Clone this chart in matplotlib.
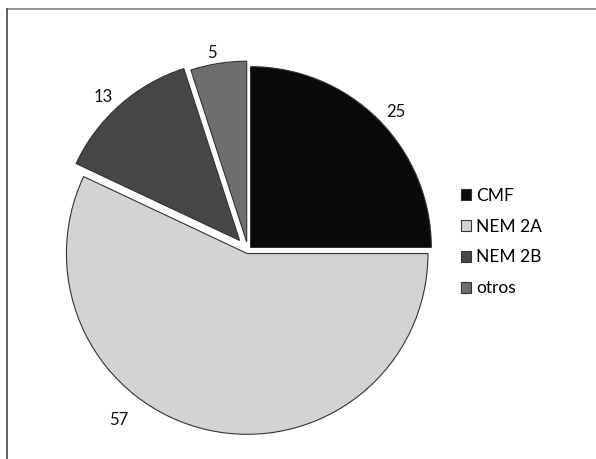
import matplotlib
matplotlib.use("Agg")
import matplotlib.pyplot as plt
from matplotlib.lines import Line2D

plt.rcParams['font.family'] = ['Lato', 'DejaVu Sans']

# datos del gráfico
categorias = ['CMF', 'NEM 2A', 'NEM 2B', 'otros']
valores = [25, 57, 13, 5]
colores = ['#0a0a0a', '#d3d3d3', '#464646', '#6e6e6e']
separacion = [0.02, 0.02, 0.07, 0.045]

fig = plt.figure(figsize=(5.96, 4.59), dpi=100)
# ejes cuadrados en pixeles, centro del pastel en (248, 209) desde abajo
ax = fig.add_axes([13 / 596, -26 / 459, 470 / 596, 470 / 459])

wedges, textos = ax.pie(valores, labels=[str(v) for v in valores],
                        colors=colores, explode=separacion,
                        startangle=90, counterclock=False,
                        labeldistance=1.06,
                        wedgeprops=dict(edgecolor='#333333', linewidth=0.8),
                        textprops=dict(fontsize=12, color='#111111'))
# la etiqueta de NEM 2A va abajo a la izquierda
textos[1].set_position((-0.66, -0.94))
ax.set_xlim(-1.3, 1.3)
ax.set_ylim(-1.3, 1.3)
ax.set_aspect('equal')
ax.axis('off')

fig.legend(wedges, categorias, loc='center left',
           bbox_to_anchor=(461 / 596, 217 / 459), frameon=False,
           fontsize=12.5, handlelength=0.6, handleheight=0.6,
           handletextpad=0.25, labelspacing=0.85, borderpad=0,
           borderaxespad=0)

# marco de la imagen (solo lados superior e izquierdo visibles)
fig.add_artist(Line2D([7 / 596, 1], [1 - 9 / 459, 1 - 9 / 459],
                      transform=fig.transFigure, color='#888888', linewidth=1.2))
fig.add_artist(Line2D([7 / 596, 7 / 596], [0, 1 - 9 / 459],
                      transform=fig.transFigure, color='#444444', linewidth=1.2))

fig.savefig('out.png', dpi=100)
